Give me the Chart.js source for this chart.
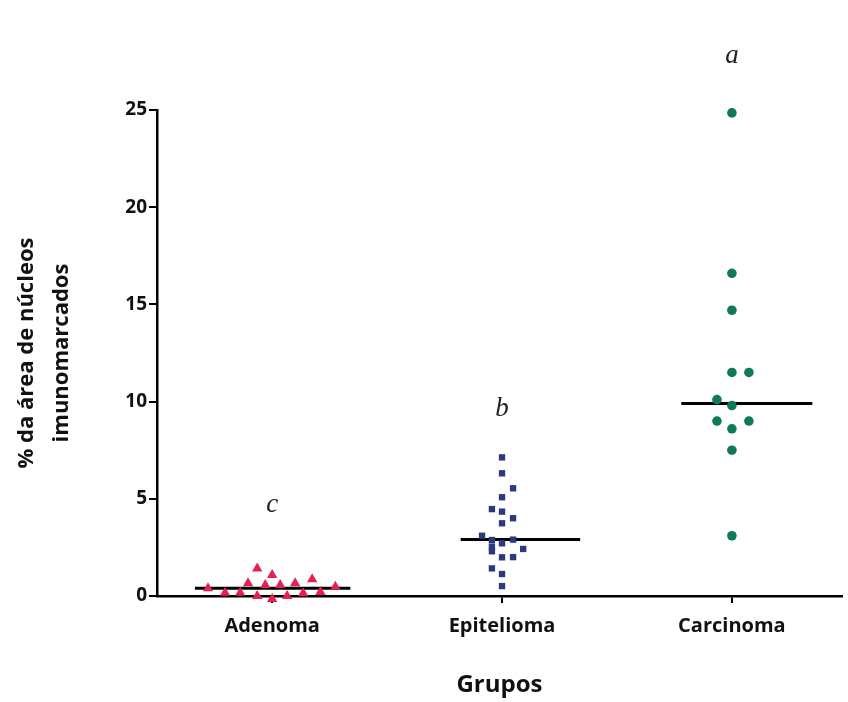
<!DOCTYPE html>
<html>
<head>
<meta charset="utf-8">
<script src="https://cdn.jsdelivr.net/npm/chart.js@4/dist/chart.umd.min.js"></script>
<style>
  html, body { margin: 0; padding: 0; background: #fff; }
  #wrap { width: 848px; height: 702px; }
</style>
</head>
<body>
<div id="wrap"><canvas id="chart" width="848" height="702"></canvas></div>
<script>
// groups on the x axis
const groups = ['Adenoma', 'Epitelioma', 'Carcinoma'];
const yTicks = [0, 5, 10, 15, 20, 25];

// values, with the sideways spread of each dot (in group widths)
const adenomaVals = [1.42, 1.08, 0.86, 0.65, 0.57, 0.57, 0.65, 0.40, 0.48, 0.17, 0.17, 0.0, -0.15, 0.0, 0.14, 0.2];
const adenomaJitter = [-0.065, 0, 0.174, -0.105, -0.03, 0.035, 0.1, -0.279, 0.275, -0.205, -0.139, -0.065, 0, 0.065, 0.135, 0.21];

const epiteliomaVals = [7.13, 6.31, 5.54, 5.08, 4.47, 4.34, 4.0, 3.74, 3.1, 2.9, 2.88, 2.71, 2.54, 2.42, 2.3, 2.0, 1.99, 1.42, 1.13, 0.51];
const epiteliomaJitter = [0, 0, 0.048, 0, -0.044, 0, 0.048, 0, -0.087, 0.048, -0.044, 0, -0.044, 0.092, -0.044, 0.048, 0, -0.044, 0, 0];

const carcinomaVals = [24.85, 16.6, 14.7, 11.5, 11.5, 10.1, 9.8, 9.0, 9.0, 8.6, 7.5, 3.1];
const carcinomaJitter = [0, 0, 0, 0, 0.074, -0.065, 0, -0.065, 0.074, 0, 0, 0];

// medians and how far each median bar reaches left / right
const medians = [0.4, 2.9, 9.9];
const medianLeft = [-0.336, -0.18, -0.22];
const medianRight = [0.34, 0.34, 0.35];

// significance letters above each group
const letters = ['c', 'b', 'a'];
const letterHeights = [4.7, 9.6, 27.8];

const colors = ['#e3224f', '#2b3a7c', '#107a58'];
const shapes = ['triangle', 'rect', 'circle'];
const sizes = [6, 4.5, 4.8];

function toPoints(vals, jitter, groupNo) {
    return vals.map((v, i) => ({ x: groupNo + jitter[i], y: v }));
}

const pointSets = [
    toPoints(adenomaVals, adenomaJitter, 1),
    toPoints(epiteliomaVals, epiteliomaJitter, 2),
    toPoints(carcinomaVals, carcinomaJitter, 3)
];

const datasets = [];
pointSets.forEach((pts, i) => {
    datasets.push({
        label: groups[i],
        data: pts,
        pointStyle: shapes[i],
        pointRadius: sizes[i],
        pointBackgroundColor: colors[i],
        pointBorderColor: colors[i],
        pointBorderWidth: 0,
        clip: false,
        order: 0
    });
});
medians.forEach((m, i) => {
    datasets.push({
        type: 'line',
        label: 'mediana ' + groups[i],
        data: [{ x: i + 1 + medianLeft[i], y: m }, { x: i + 1 + medianRight[i], y: m }],
        borderColor: '#000',
        borderWidth: 3,
        pointRadius: 0,
        fill: false,
        clip: false,
        order: 1
    });
});

// letters a / b / c drawn at data positions
const letterPlugin = {
    id: 'groupLetters',
    afterDraw(chart) {
        const { ctx, scales: { x, y } } = chart;
        ctx.save();
        ctx.fillStyle = '#222';
        ctx.font = 'italic 27px "Liberation Serif"';
        ctx.textAlign = 'center';
        ctx.textBaseline = 'middle';
        letters.forEach((l, i) => {
            ctx.fillText(l, x.getPixelForValue(i + 1), y.getPixelForValue(letterHeights[i]));
        });
        ctx.restore();
    }
};

new Chart(document.getElementById('chart'), {
    type: 'scatter',
    data: { datasets: datasets },
    options: {
        responsive: false,
        animation: false,
        layout: { padding: { top: 110, left: 0, right: 0, bottom: 0 } },
        plugins: { legend: { display: false }, tooltip: { enabled: false } },
        scales: {
            x: {
                type: 'linear',
                min: 0.499,
                max: 3.479,
                afterBuildTicks: (scale) => { scale.ticks = groups.map((g, i) => ({ value: i + 1 })); },
                afterFit: (scale) => { scale.height = 106; },
                ticks: {
                    autoSkip: false,
                    maxRotation: 0,
                    padding: 11,
                    color: '#111',
                    font: { family: 'Open Sans', weight: 'bold', size: 20 },
                    callback: (v) => groups[v - 1]
                },
                grid: { drawOnChartArea: false, drawTicks: true, tickLength: 7, color: '#000', lineWidth: 2 },
                border: { color: '#000', width: 2.5 },
                title: {
                    display: true,
                    text: 'Grupos',
                    color: '#111',
                    font: { family: 'Open Sans', weight: 'bold', size: 24 },
                    padding: { top: 2, bottom: 2 }
                }
            },
            y: {
                min: 0,
                max: 25,
                afterBuildTicks: (scale) => { scale.ticks = yTicks.map(v => ({ value: v })); },
                afterFit: (scale) => { scale.width = 157; },
                ticks: { padding: 2, color: '#111', font: { family: 'Open Sans', weight: 'bold', size: 19 } },
                grid: { drawOnChartArea: false, drawTicks: true, tickLength: 8, color: '#000', lineWidth: 2 },
                border: { color: '#000', width: 2.5 },
                title: {
                    display: true,
                    text: ['% da área de núcleos', 'imunomarcados'],
                    color: '#111',
                    font: { family: 'Open Sans', weight: 'bold', size: 22, lineHeight: 1.6 },
                    padding: { top: 9, bottom: 0 }
                }
            }
        }
    },
    plugins: [letterPlugin]
});
</script>
</body>
</html>
